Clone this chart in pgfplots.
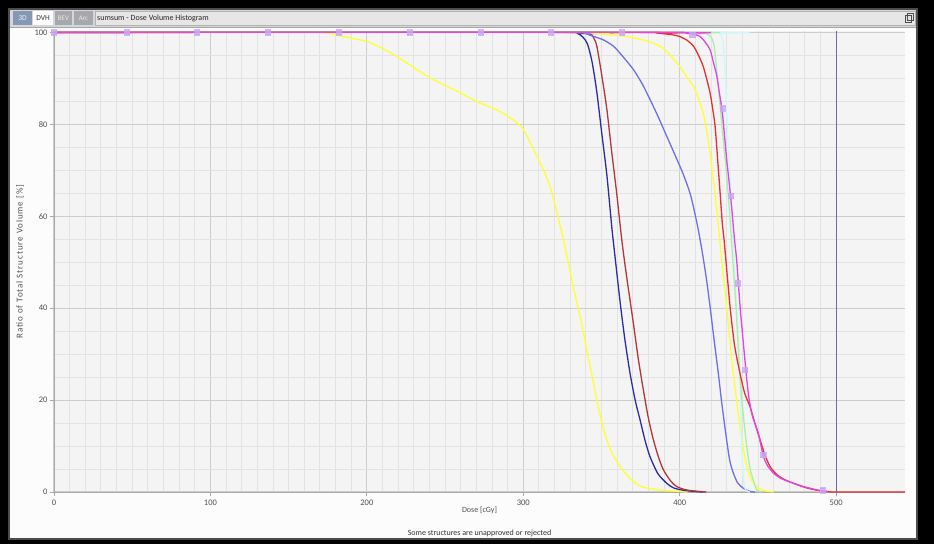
\documentclass[border=0pt]{standalone}
\usepackage{pgfplots}
\pgfplotsset{compat=1.18}
\usepackage{fontspec}
\setmainfont{Carlito}
\definecolor{plotbg}{HTML}{F4F4F4}
\definecolor{mingrid}{HTML}{E3E3E3}
\definecolor{majgrid}{HTML}{CDCDCD}
\definecolor{axisgray}{HTML}{A8A8A8}
\definecolor{winbg}{HTML}{FCFCFC}
\definecolor{barbg}{HTML}{D4D6DA}
\definecolor{tabblue}{HTML}{8497B4}
\definecolor{tabgray}{HTML}{A6A8AC}
\definecolor{titlebox}{HTML}{E6E6E6}
\definecolor{txtgray}{HTML}{505050}
\definecolor{cyellow}{HTML}{FFFF30}
\definecolor{cnavy}{HTML}{2C2CA0}
\definecolor{cbrown}{HTML}{B03838}
\definecolor{cmblue}{HTML}{6E6EE6}
\definecolor{cred}{HTML}{E63030}
\definecolor{cmag}{HTML}{E444E4}
\definecolor{cgreen}{HTML}{A8F0A8}
\definecolor{ccyan}{HTML}{CCF8F8}
\definecolor{cvline}{HTML}{6A6AA8}
\definecolor{cmark}{HTML}{C8A8F4}
\begin{document}
\begin{tikzpicture}[x=1pt,y=1pt]
\fill[black] (0,0) rectangle (934,544);
\fill[winbg] (9,5) rectangle (917,535);
\draw[black!70,line width=1.2pt] (9,5) rectangle (917,535);
% title bar
\fill[barbg] (10,517) rectangle (916,534);
\draw[gray!70] (10,517) -- (916,517);
\fill[tabblue] (13,519) rectangle (32,533);
\node[text=white!85!tabblue,font=\fontsize{7.5}{8}\selectfont] at (22.5,526) {3D};
\fill[white] (33,519) rectangle (53,533);
\node[text=black!80,font=\fontsize{7.5}{8}\selectfont] at (43,526) {DVH};
\fill[tabgray] (55,519) rectangle (72,533);
\node[text=white!75!tabgray,font=\fontsize{7}{8}\selectfont] at (63.5,526) {BEV};
\fill[tabgray] (74,519) rectangle (93,533);
\node[text=white!75!tabgray,font=\fontsize{7}{8}\selectfont] at (83.5,526) {Arc};
\fill[titlebox] (95,519) rectangle (915,533);
\draw[gray!60] (95,519) rectangle (915,533);
\node[anchor=west,inner sep=0pt,text=black!85,font=\fontsize{8}{9}\selectfont] at (97,526) {sumsum - Dose Volume Histogram};
\draw[black!70,line width=0.6pt] (905,522) rectangle (911,529);
\draw[black!70,line width=0.6pt] (907,524) rectangle (913,531);
\begin{axis}[
  at={(54pt,52pt)}, anchor=south west,
  scale only axis, width=851pt, height=461pt,
  xmin=0, xmax=544, ymin=0, ymax=100.3,
  clip=false,
  axis background/.style={fill=plotbg},
  axis lines*=left, axis line style={draw=axisgray,line width=0.9pt,-},
  xtick={0,100,...,500}, ytick={0,20,...,100},
  minor x tick num=9, minor y tick num=3,
  grid=both,
  major grid style={draw=majgrid,line width=1.1pt},
  minor grid style={draw=mingrid,line width=0.9pt},
  tick align=outside, major tick length=4pt, minor tick length=0pt,
  major tick style={draw=axisgray,line width=0.8pt},
  /pgf/number format/assume math mode=true,
  ticklabel style={font=\fontsize{8.5}{9}\selectfont, text=txtgray},
  xticklabel style={yshift=0pt},
  yticklabel style={xshift=1pt},
  xlabel={Dose [cGy]}, ylabel={Ratio of Total Structure Volume [\%]},
  label style={font=\fontsize{8}{9}\selectfont, text=txtgray},
  xlabel style={at={(axis description cs:0.5,-0.039)}, anchor=center},
  ylabel style={at={(axis description cs:-0.040,0.5)}, anchor=center, rotate=0, font=\fontsize{9}{10}\selectfont\addfontfeature{LetterSpace=10}},
  every axis plot/.append style={line width=1.3pt, smooth, tension=0.45},
]
\addplot[cvline, line width=1pt, smooth=false] coordinates {(500,0) (500,100.3)};
% yellow 1
\addplot[cyellow] coordinates {(0,100)(165,100)(172,99.9)(177,99.7)(185,99.1)(200,98)(210,96.5)(219,94.8)(232,91.9)(241,90)(251,88.3)(260,86.8)(270,85)(280,83.6)(287,82.4)(292,81.3)(296,80.3)(300,78.9)(304,76.3)(308.6,73.1)(313,70)(317,66.6)(321,61.5)(325.6,55)(329,49.5)(332,44.5)(335,40.2)(338,35.5)(340.6,30.8)(344,25.2)(347,20)(350,15.5)(353.4,11.3)(357,8.3)(362,5.5)(368,3)(374.7,1.3)(383,0.6)(391.7,0.3)(400,0.1)(405,0)};
% navy
\addplot[cnavy] coordinates {(0,100)(330,100)(335,99.7)(338,99)(341,97.5)(344,93.5)(347,87)(350,78.5)(353.4,69)(356.6,57.5)(358.7,51)(362,41)(365,33)(368.3,25.7)(371.5,20)(374.7,15.6)(378,11)(381,7.7)(386,4)(391.7,1.9)(396,0.9)(402,0.4)(410,0.1)(415,0)};
% brown
\addplot[cbrown] coordinates {(0,100)(340,100)(343,99.7)(345,98.8)(347,97)(350,91)(353.4,83.3)(356.5,74)(359.7,65)(363,54.7)(366,47)(370.4,36.6)(373.5,29)(376.8,22.1)(380,16)(383.2,11.3)(386.5,7.5)(389.6,4.8)(394,2.5)(398,1.2)(405,0.4)(417,0)};
% medium blue
\addplot[cmblue] coordinates {(0,100)(335,100)(340,99.7)(345,99.1)(351,98.4)(357.6,97)(363,95)(370.4,91.9)(376,88.8)(381,85.4)(386,81.8)(391.7,77.4)(397,73.3)(402.4,69)(407,64.5)(411,58.5)(414,53)(417,46.5)(419.5,40)(422,33)(424.7,25.7)(427,19)(430,11.3)(432,6.8)(434.3,4.1)(437,2)(440.7,0.8)(445,0.1)(448,0)};
% yellow 2
\addplot[cyellow] coordinates {(0,100)(340,100)(345,99.8)(355,99.5)(366,99.1)(377,98.3)(387.5,97)(394,95)(400,92.6)(405,90)(408.8,88.3)(412,85.5)(415,82.5)(417.5,78)(419.4,73.8)(421.5,68)(423.7,61.5)(425.4,55.5)(427,50)(430,40.2)(432,33)(434.3,25.7)(436.5,19.5)(438.6,14.2)(440.7,9.5)(442.9,5.5)(446,2.5)(449.3,1.1)(452,0.5)(455.7,0.2)(460,0)};
% cyan
\addplot[ccyan] coordinates {(0,100)(420,100)(425,99.8)(427,99)(428.5,95)(429.5,88)(430.5,78)(432,69.8)(434,55)(436,42)(438,30)(439,20)(439.7,10)(440.5,4)(442,0.5)(445,0)};
% green
\addplot[cgreen] coordinates {(0,100)(400,100)(412,99.9)(417,99.7)(420,99)(422,97)(423.7,91.5)(425.8,84)(428,76)(430,69)(432,60)(434,50)(436,40)(438,28)(439.7,20)(441.5,14)(442.9,9.8)(445,5)(447,2.6)(449.3,0.4)(452,0)};
% red
\addplot[cred] coordinates {(0,100)(380,100)(387,99.8)(395,99.5)(400,99.1)(405,98.2)(408.8,97)(412,95)(415,92.6)(417.5,89.5)(419.4,86.8)(421,83.5)(422.6,79.6)(424.2,72.5)(425.8,65.1)(427.2,58.5)(428.4,54.7)(429.5,50.5)(432.2,40.2)(435,32)(438.6,25.7)(441.5,21.5)(445,18.5)(448,15)(451.4,11.3)(454.5,8)(457.8,5.5)(462,3.8)(467,2.7)(472.7,1.9)(480,1)(487.6,0.4)(495,0.1)(500,0)(544,0)};
% magenta
\addplot[cmag] coordinates {(0,100)(395,100)(405,99.8)(410,99.5)(413,99.1)(416,98)(419.4,96.2)(421.5,93.5)(423.7,90.5)(425.5,86.5)(427,83.2)(428.5,78)(430,72.4)(431.7,67)(433.3,61.5)(435,55)(436.5,50)(438.6,40.2)(440.5,33)(442.5,25.7)(444,21)(446,17.1)(448,15)(450.3,12.7)(452,10)(453.5,7.7)(456,5.8)(459.9,4.1)(465,2.9)(472.7,1.9)(480,1.1)(489.8,0.3)(495,0)};
% markers
\addplot[only marks, mark=square*, mark size=2.6pt, color=cmark, fill opacity=0.8, draw opacity=0.8] coordinates {(0,100)(46.7,100)(91.5,100)(136.9,100)(182.3,100)(227.6,100)(273,100)(317.8,100)(363.2,100)(408,99.4)(427.5,83.4)(432.9,64.4)(437.1,45.4)(441.8,26.5)(453.5,8)(491.5,0.3)};
\end{axis}
\node[text=black!80,font=\fontsize{8}{9}\selectfont] at (479.5,11) {Some structures are unapproved or rejected};
\end{tikzpicture}
\end{document}
